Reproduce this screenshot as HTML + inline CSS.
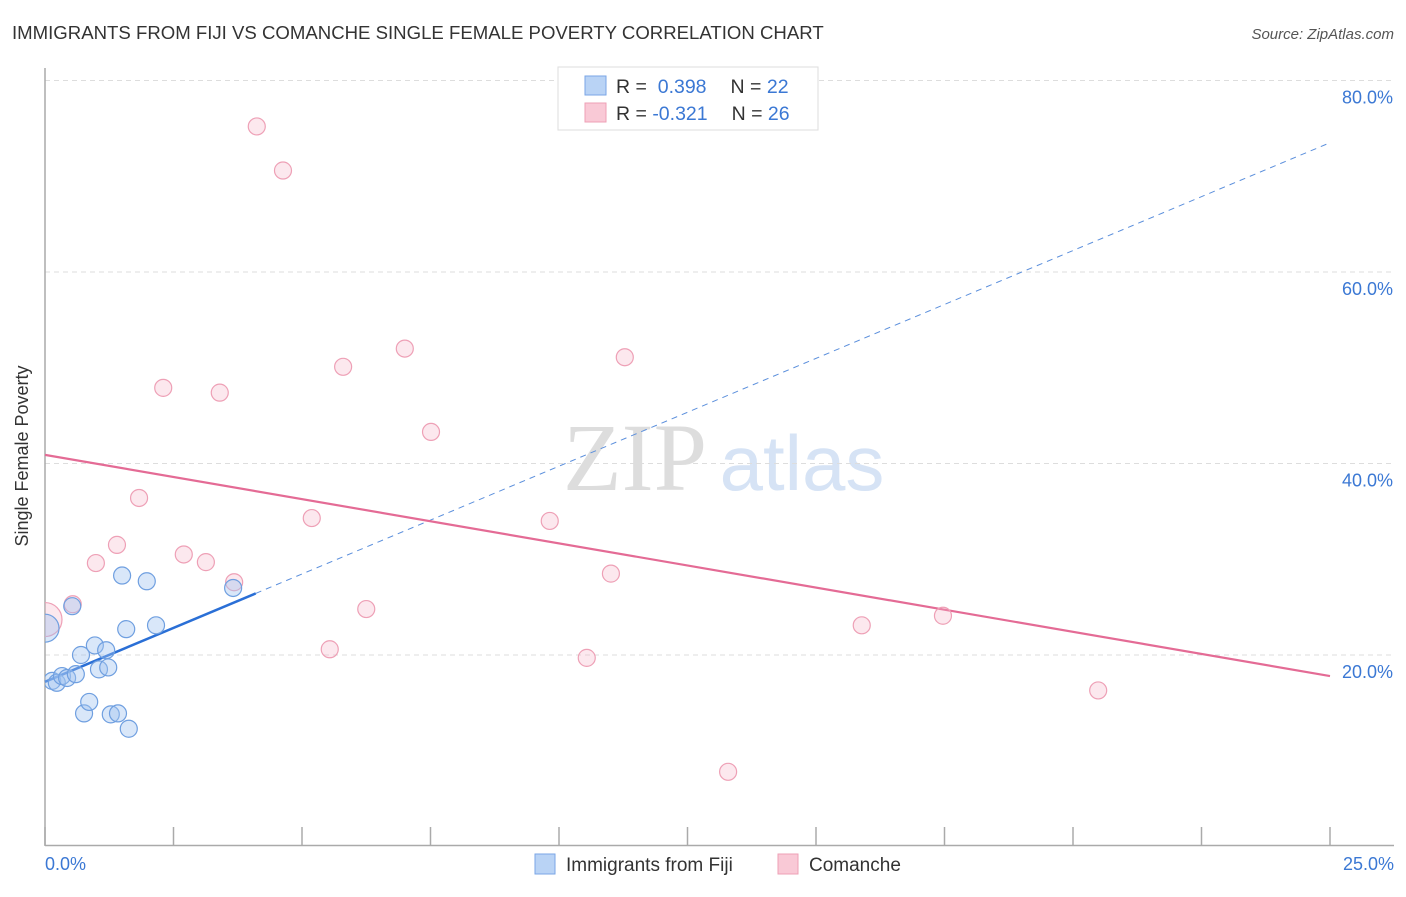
<!DOCTYPE html>
<html><head><meta charset="utf-8"><style>
body{margin:0;background:#fff;font-family:"Liberation Sans",sans-serif}
</style></head><body>
<svg width="1406" height="892" xmlns="http://www.w3.org/2000/svg" font-family="Liberation Sans, sans-serif">
<defs><clipPath id="plot"><rect x="45" y="60" width="1360" height="786"/></clipPath></defs>
<text x="12" y="39" font-size="18.6" fill="#333">IMMIGRANTS FROM FIJI VS COMANCHE SINGLE FEMALE POVERTY CORRELATION CHART</text>
<text x="1394" y="39" font-size="15" fill="#555" font-style="italic" text-anchor="end">Source: ZipAtlas.com</text>
<text x="635" y="490" font-size="96" fill="#ddd" font-family="Liberation Serif, serif" text-anchor="middle">ZIP</text>
<text x="802" y="490" font-size="78" fill="#d6e3f5" text-anchor="middle">atlas</text>
<g id="grid"></g>
<line x1="45" y1="68" x2="45" y2="846" stroke="#aaa" stroke-width="1.5"/>
<line x1="45" y1="845.5" x2="1394" y2="845.5" stroke="#aaa" stroke-width="1.5"/>
<text x="28" y="456" font-size="18" fill="#333" transform="rotate(-90 28 456)" text-anchor="middle">Single Female Poverty</text>
<text x="45" y="870" font-size="18" fill="#3b78d4">0.0%</text>
<text x="1394" y="870" font-size="18" fill="#3b78d4" text-anchor="end">25.0%</text>
<g id="lines"></g>
<g id="pts" clip-path="url(#plot)"></g>
<g>
<rect x="558" y="67" width="260" height="63" fill="#fff" stroke="#ddd"/>
<rect x="585" y="76" width="21" height="19" fill="#b9d3f5" stroke="#7aa6e6"/>
<rect x="585" y="103" width="21" height="19" fill="#f9c9d6" stroke="#eea0b6"/>
<text x="616" y="93" font-size="19.5" fill="#333">R = <tspan fill="#3b78d4">&#160;0.398</tspan><tspan dx="24">N = </tspan><tspan fill="#3b78d4">22</tspan></text>
<text x="616" y="120" font-size="19.5" fill="#333">R = <tspan fill="#3b78d4">-0.321</tspan><tspan dx="24">N = </tspan><tspan fill="#3b78d4">26</tspan></text>
</g>
<g>
<rect x="535" y="854" width="20" height="20" fill="#b9d3f5" stroke="#7aa6e6"/>
<text x="566" y="871" font-size="19" fill="#333">Immigrants from Fiji</text>
<rect x="778" y="854" width="20" height="20" fill="#f9c9d6" stroke="#eea0b6"/>
<text x="809" y="871" font-size="19" fill="#333">Comanche</text>
</g>
</svg>
<script>
const yTicks=[20,40,60,80];
const xTicks=[0,2.5,5,7.5,10,12.5,15,17.5,20,22.5,25];
const fijiX=[0,0.14,0.23,0.33,0.43,0.6,0.53,0.7,0.97,1.19,1.05,1.23,0.76,0.86,1.28,1.42,1.63,1.58,2.16,1.5,1.98,3.66];
const fijiY=[22.8,17.3,17.1,17.8,17.6,18.0,25.1,20.0,21.0,20.5,18.5,18.7,13.9,15.1,13.8,13.9,12.3,22.7,23.1,28.3,27.7,27.0];
const comX=[0,0.54,0.99,1.40,1.83,2.30,2.70,3.13,3.40,3.68,4.12,4.63,5.19,5.54,5.80,6.25,7.00,7.51,9.82,10.54,11.01,11.28,13.29,15.89,17.47,20.49];
const comY=[23.7,25.3,29.6,31.5,36.4,47.9,30.5,29.7,47.4,27.6,75.2,70.6,34.3,20.6,50.1,24.8,52.0,43.3,34.0,19.7,28.5,51.1,7.8,23.1,24.1,16.3];
const fijiLine=[17.2,73.5];
const comLine=[40.9,17.8];
const NS="http://www.w3.org/2000/svg";
const sx=v=>45+v*51.4, sy=v=>846.5-v*9.575;
function mk(t,a,p){const e=document.createElementNS(NS,t);for(const k in a)e.setAttribute(k,a[k]);p.appendChild(e);return e;}
const grid=document.getElementById('grid');
yTicks.forEach(t=>{
 const l=mk('line',{x1:45,x2:1394,y1:sy(t),y2:sy(t),stroke:'#ddd','stroke-dasharray':'5,4'},grid);
 
 
 const tx=mk('text',{x:1393,y:sy(t)+23,'font-size':18,fill:'#3b78d4','text-anchor':'end'},grid);
 tx.textContent=t.toFixed(1)+'%';
 
 
});
xTicks.forEach(t=>{
 const l=mk('line',{x1:sx(t),x2:sx(t),y1:827,y2:845,stroke:'#aaa','stroke-width':1.5},grid);
 
 
});
const pts=document.getElementById('pts'), lines=document.getElementById('lines');
comX.forEach((x,i)=>{
 const c=mk('circle',{cx:sx(x),cy:sy(comY[i]),r:i==0?17:8.5,fill:'rgba(246,180,200,0.3)',stroke:'#eea0b6','stroke-width':1.2},pts);
 
 
});
fijiX.forEach((x,i)=>{
 const c=mk('circle',{cx:sx(x),cy:sy(fijiY[i]),r:i==0?14:8.5,fill:'rgba(160,195,240,0.4)',stroke:'#6f9fe0','stroke-width':1.2},pts);
 
 
});
const fy=x=>fijiLine[0]+(fijiLine[1]-fijiLine[0])*x/25;
let l1=mk('line',{x1:sx(4.1),y1:sy(fy(4.1)),x2:sx(25),y2:sy(fy(25)),stroke:'#5b8fdc','stroke-width':1,'stroke-dasharray':'6,5'},lines);


let l2=mk('line',{x1:sx(0),y1:sy(fy(0)),x2:sx(4.1),y2:sy(fy(4.1)),stroke:'#2a6fd6','stroke-width':2.5},lines);


let l3=mk('line',{x1:sx(0),y1:sy(comLine[0]),x2:sx(25),y2:sy(comLine[1]),stroke:'#e46b95','stroke-width':2.2},lines);


</script>
</body></html>
